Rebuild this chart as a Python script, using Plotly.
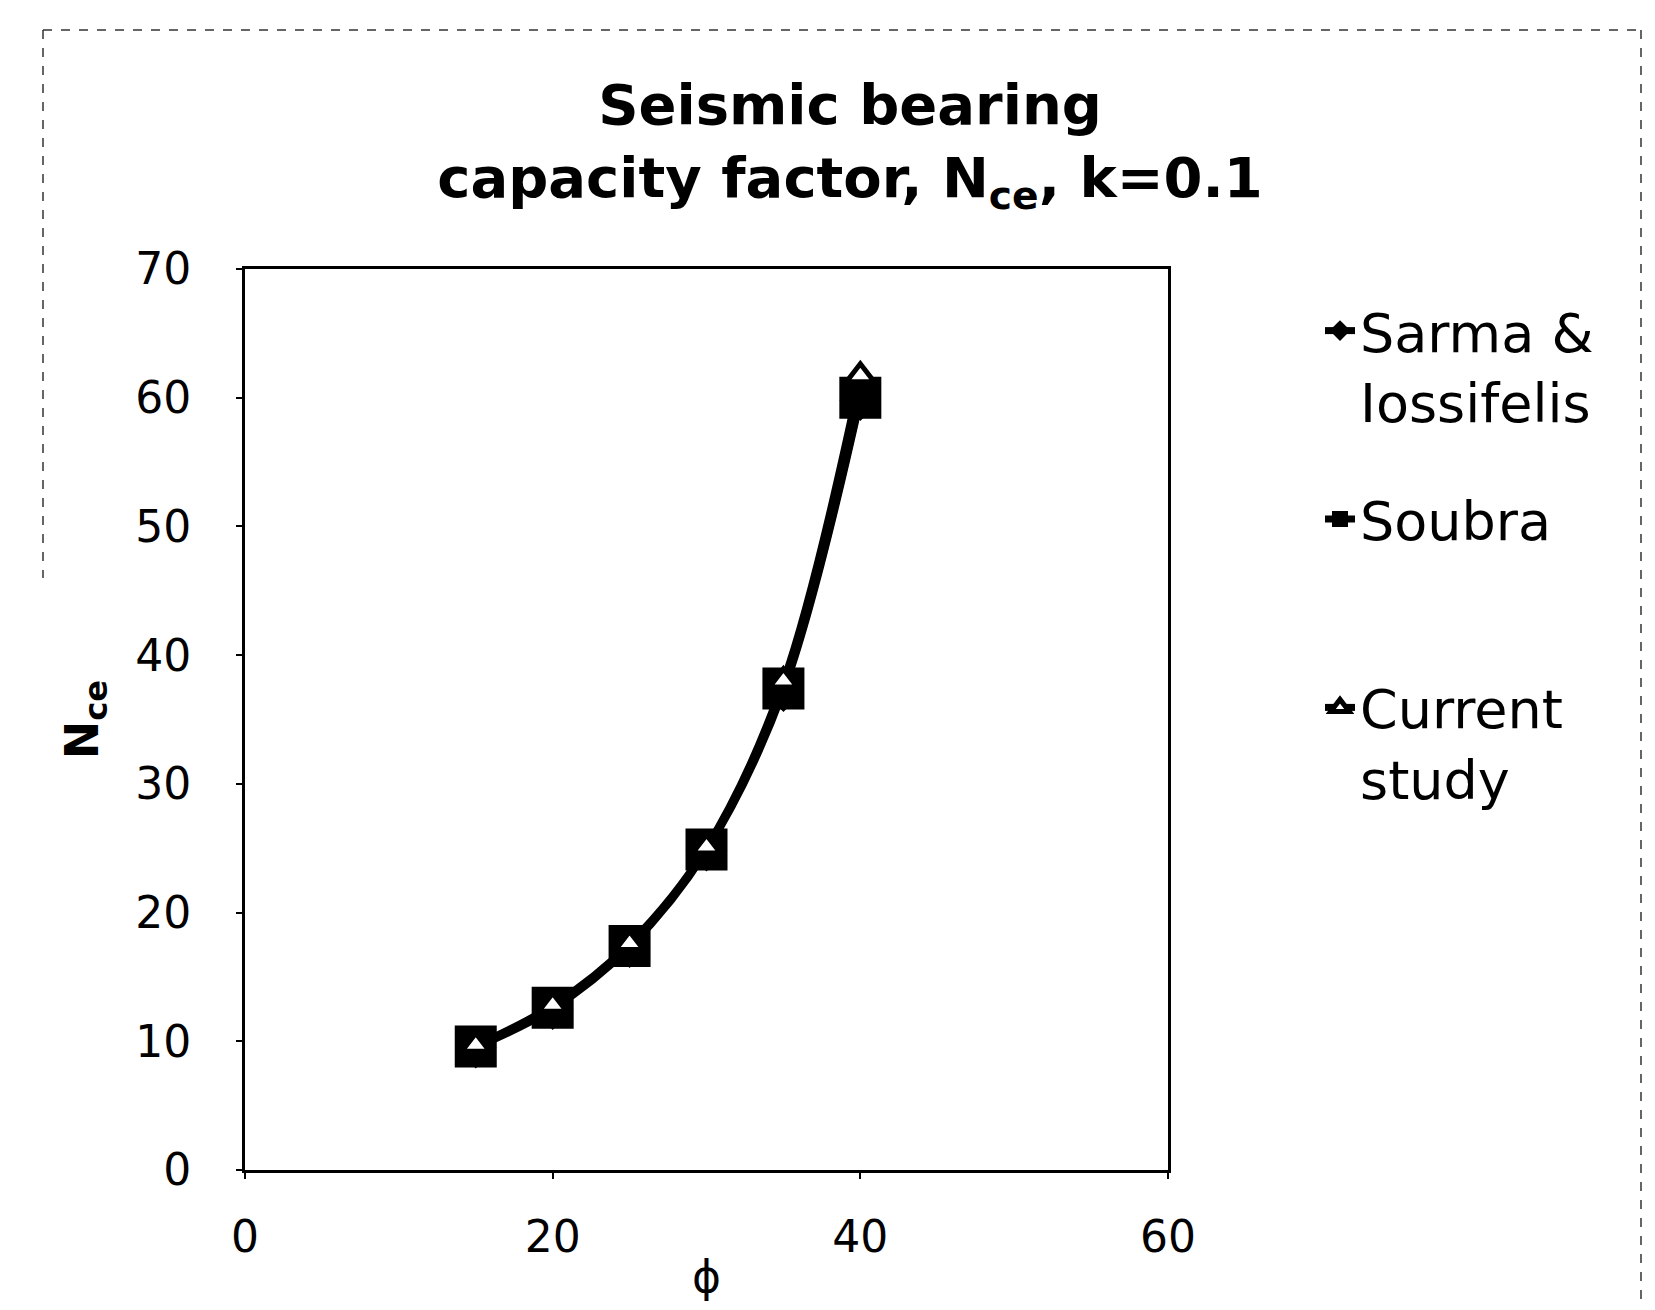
import plotly.graph_objects as go

phi = [15, 20, 25, 30, 35, 40]
sarma = [9.5, 12.5, 17.3, 24.8, 37.2, 59.8]
soubra = [9.6, 12.6, 17.4, 24.9, 37.4, 60.0]
current = [9.7, 12.8, 17.6, 25.1, 38.0, 61.7]

names = ["Sarma &<br>Iossifelis", "Soubra<br>\u00a0", "Current<br>study"]

fig = go.Figure()
fig.add_trace(go.Scatter(
    x=phi, y=sarma, name=names[0], mode="lines+markers",
    line=dict(color="black", width=7, shape="spline"),
    marker=dict(symbol="diamond", size=32, color="black"),
    legendgroup="a"))
fig.add_trace(go.Scatter(
    x=phi, y=soubra, name=names[1], mode="lines+markers",
    line=dict(color="black", width=7, shape="spline"),
    marker=dict(symbol="square", size=42, color="black"),
    legendgroup="b"))
fig.add_trace(go.Scatter(
    x=phi, y=current, name=names[2], mode="lines+markers",
    line=dict(color="black", width=7, shape="spline"),
    marker=dict(symbol="triangle-up", size=24, color="white",
                line=dict(color="black", width=5)),
    legendgroup="c"))

# page has an 8px body margin: figure coordinates = page coordinates - 8
OFF = 8
W, H = 1655 - OFF, 1310 - 2 * OFF
L, R, T, B = 245 - OFF, 1168 - OFF, 269 - OFF, 1170 - OFF
pw, ph = R - L, B - T

def px(x):
    return (x - OFF - L) / pw

def py(y):
    return (B - (y - OFF)) / ph

border = dict(color="#333", width=1.5, dash="dash")
fig.add_shape(type="line", xref="paper", yref="paper",
              x0=px(43), x1=px(1641), y0=py(30), y1=py(30), line=border)
fig.add_shape(type="line", xref="paper", yref="paper",
              x0=px(43), x1=px(43), y0=py(30), y1=py(578), line=border)
fig.add_shape(type="line", xref="paper", yref="paper",
              x0=px(1641), x1=px(1641), y0=py(30), y1=py(1310), line=border)

fig.update_layout(
    width=W, height=H,
    margin=dict(l=L, r=W - R, t=T, b=H - B, autoexpand=False),
    paper_bgcolor="white", plot_bgcolor="white",
    font=dict(family="DejaVu Sans", color="black"),
    title=dict(
        text="Seismic bearing<br>capacity factor, N<sub>ce</sub>, k=0.1",
        font=dict(family="DejaVu Sans", size=56, color="black", weight="bold"),
        x=842 / W, xref="container", xanchor="center",
        y=1 - 116 / H, yref="container", yanchor="top"),
    showlegend=True,
    legend=dict(
        x=px(1320), y=py(289), xanchor="left", yanchor="top",
        font=dict(family="DejaVu Sans", size=54, color="black"),
        traceorder="grouped", tracegroupgap=45, valign="top",
        bgcolor="rgba(0,0,0,0)", borderwidth=0),
    xaxis=dict(
        range=[0, 60], tickvals=[0, 20, 40, 60], showgrid=False, zeroline=False,
        showline=True, linecolor="black", linewidth=3, mirror=True,
        ticks="outside", ticklen=6, tickwidth=2, tickcolor="black",
        tickfont=dict(size=44, family="DejaVu Sans"), ticklabelstandoff=20,
        title=dict(text="ϕ", font=dict(size=44, family="DejaVu Sans"), standoff=14)),
    yaxis=dict(
        range=[0, 70], tickvals=[0, 10, 20, 30, 40, 50, 60, 70], showgrid=False, zeroline=False,
        showline=True, linecolor="black", linewidth=3, mirror=True,
        ticks="outside", ticklen=6, tickwidth=2, tickcolor="black",
        tickfont=dict(size=44, family="DejaVu Sans"), ticklabelstandoff=36,
        title=dict(text="<b>N<sub>ce</sub></b>", font=dict(size=46, family="DejaVu Sans"), standoff=23)),
)

fig.write_html("out.html")
